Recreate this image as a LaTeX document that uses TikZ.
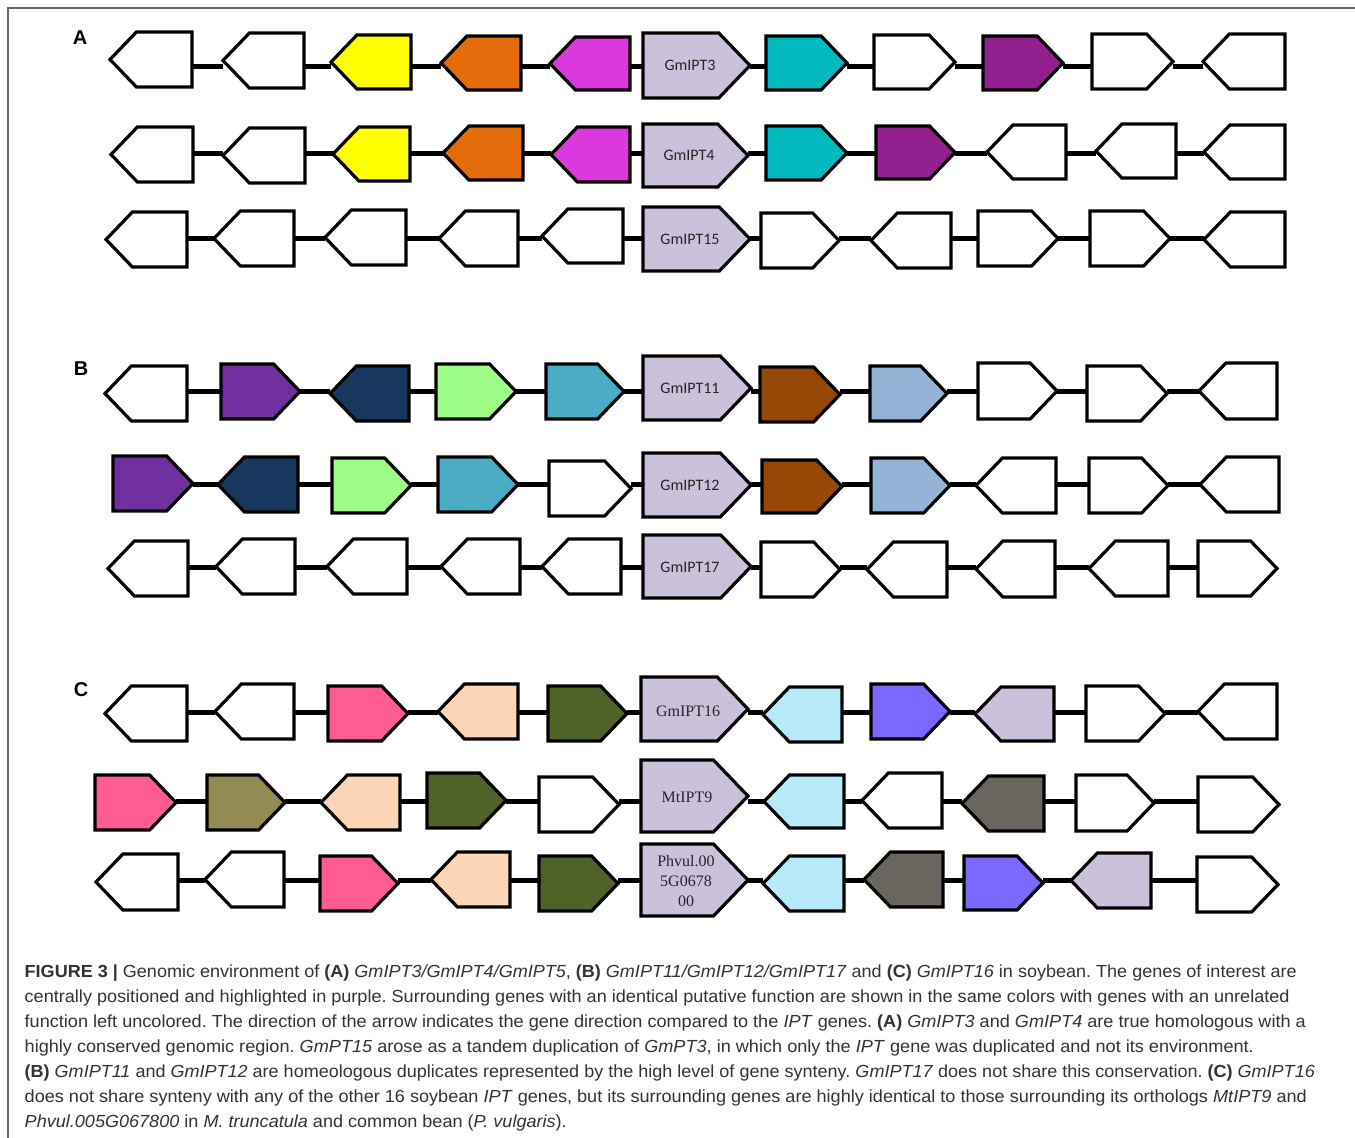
\documentclass[tikz,border=0pt]{standalone}
\usepackage{fontspec}
\usepackage{graphicx}
\setmainfont{Liberation Sans}
\newfontfamily\carl{Carlito}
\newfontfamily\tnr{Liberation Serif}
\usetikzlibrary{backgrounds}
\frenchspacing

\definecolor{yellowA}{HTML}{FFFF00}
\definecolor{orangeA}{HTML}{E46C0A}
\definecolor{magentaA}{HTML}{DD38DD}
\definecolor{iptcol}{HTML}{CCC1DA}
\definecolor{tealA}{HTML}{00B9BE}
\definecolor{purpleA}{HTML}{93208F}
\definecolor{purpleB}{HTML}{7030A0}
\definecolor{navyB}{HTML}{17375E}
\definecolor{lgreenB}{HTML}{9EFD87}
\definecolor{aquaB}{HTML}{4BACC6}
\definecolor{brownB}{HTML}{974706}
\definecolor{lblueB}{HTML}{95B3D7}
\definecolor{pinkC}{HTML}{FF5C93}
\definecolor{peachC}{HTML}{FBD5B5}
\definecolor{dkgreenC}{HTML}{4F6228}
\definecolor{khakiC}{HTML}{948A54}
\definecolor{lcyanC}{HTML}{B7EBFA}
\definecolor{violetC}{HTML}{7A68FF}
\definecolor{grayC}{HTML}{6B6560}
\definecolor{captext}{HTML}{333333}
\definecolor{framecol}{HTML}{666666}

\tikzset{
  genestyle/.style={draw=black, line width=3.2pt, line join=miter},
  genebox/.style={rectangle, draw=none, inner sep=0pt, outer sep=0pt},
  conn/.style={draw=black, line width=5pt},
  iptlab/.style={font=\carl\fontsize{16}{18}\selectfont, text=black!85, inner sep=0pt},
  serlab/.style={font=\tnr\fontsize{16}{20}\selectfont, text=black!85, inner sep=0pt, align=center},
  panellab/.style={font=\bfseries\fontsize{20}{22}\selectfont, inner sep=0pt},
  capline/.style={anchor=base west, inner sep=0pt, font=\fontsize{17.5}{20}\selectfont, text=captext},
  frameline/.style={draw=framecol, line width=1.5pt},
}

% #1 name, #2 direction (R/L), #3 x left, #4 x right, #5 y top, #6 y bottom, #7 fill
\newcommand\gene[7]{%
  \pgfmathsetmacro\gd{0.48*(#6-#5)}%
  \ifx#2R%
    \filldraw[genestyle, fill=#7] (#3,#5) -- ({#4-\gd},#5) -- (#4,{(#5+#6)/2}) -- ({#4-\gd},#6) -- (#3,#6) -- cycle;%
  \else%
    \filldraw[genestyle, fill=#7] (#4,#5) -- ({#3+\gd},#5) -- (#3,{(#5+#6)/2}) -- ({#3+\gd},#6) -- (#4,#6) -- cycle;%
  \fi%
  \pgfmathsetmacro\gw{#4-#3}\pgfmathsetmacro\gh{#6-#5}%
  \node[genebox, minimum width=\gw pt, minimum height=\gh pt] (#1) at ({(#3+#4)/2},{(#5+#6)/2}) {};%
}
% connect genes prefix1..prefix11 at the row coordinate
\newcommand\linkrow[1]{%
  \begin{scope}[on background layer]
  \foreach \i in {1,...,10}{%
    \pgfmathtruncatemacro\j{\i+1}%
    \draw[conn] (#1\i.east |- row#1) -- (#1\j.west |- row#1);%
  }
  \end{scope}%
}

\begin{document}
\begin{tikzpicture}[x=1pt, y=-1pt]
\useasboundingbox (0,0) rectangle (1355,1138);
\begin{scope}[on background layer]
\fill[white] (0,0) rectangle (1355,1138);
\end{scope}
\draw[frameline] (8,1138) -- (8,8) -- (1355,8);

% panel letters
\node[panellab] (labA) at (80,38) {A};
\node[panellab] (labB) at (81,369) {B};
\node[panellab] (labC) at (81,690) {C};

% ---------------- A row 1
\coordinate (rowa) at (0,66);
\gene{a1}{L}{110}{192}{32}{87}{white}
\gene{a2}{L}{223}{304}{33}{88}{white}
\gene{a3}{L}{331}{411}{35}{89}{yellowA}
\gene{a4}{L}{441}{521}{36}{90}{orangeA}
\gene{a5}{L}{550}{630}{37}{90}{magentaA}
\gene{a6}{R}{643}{750}{33}{98}{iptcol}
\gene{a7}{R}{766}{847}{36}{90}{tealA}
\gene{a8}{R}{874}{955}{35}{89}{white}
\gene{a9}{R}{983}{1063}{36}{90}{purpleA}
\gene{a10}{R}{1092}{1173}{34}{89}{white}
\gene{a11}{L}{1203}{1285}{34}{89}{white}
\node[iptlab] (a6t) at (690,65.5) {GmIPT3};
\linkrow{a}

% ---------------- A row 2
\coordinate (rowb) at (0,153);
\gene{b1}{L}{111}{193}{127}{182}{white}
\gene{b2}{L}{223}{305}{128}{183}{white}
\gene{b3}{L}{333}{410}{127}{181}{yellowA}
\gene{b4}{L}{443}{523}{126}{180}{orangeA}
\gene{b5}{L}{551}{630}{127}{182}{magentaA}
\gene{b6}{R}{643}{748}{124}{187}{iptcol}
\gene{b7}{R}{766}{847}{126}{180}{tealA}
\gene{b8}{R}{876}{955}{126}{179}{purpleA}
\gene{b9}{L}{987}{1066}{125}{179}{white}
\gene{b10}{L}{1096}{1176}{124}{178}{white}
\gene{b11}{L}{1204}{1285}{125}{179}{white}
\node[iptlab] (b6t) at (689,155.5) {GmIPT4};
\linkrow{b}

% ---------------- A row 3
\coordinate (rowc) at (0,238);
\gene{c1}{L}{106}{187}{212}{267}{white}
\gene{c2}{L}{214}{294}{211}{266}{white}
\gene{c3}{L}{325}{406}{210}{265}{white}
\gene{c4}{L}{439}{518}{211}{266}{white}
\gene{c5}{L}{542}{623}{209}{263}{white}
\gene{c6}{R}{643}{750}{207}{271}{iptcol}
\gene{c7}{R}{761}{839}{213}{268}{white}
\gene{c8}{L}{871}{951}{213}{268}{white}
\gene{c9}{R}{978}{1058}{211}{266}{white}
\gene{c10}{R}{1090}{1170}{211}{266}{white}
\gene{c11}{L}{1204}{1285}{212}{267}{white}
\node[iptlab] (c6t) at (690,239) {GmIPT15};
\linkrow{c}

% ---------------- B row 1
\coordinate (rowd) at (0,391);
\gene{d1}{L}{105}{187}{366}{421}{white}
\gene{d2}{R}{221}{300}{364}{419}{purpleB}
\gene{d3}{L}{330}{409}{366}{421}{navyB}
\gene{d4}{R}{436}{516}{364}{419}{lgreenB}
\gene{d5}{R}{546}{624}{364}{419}{aquaB}
\gene{d6}{R}{643}{751}{356}{420}{iptcol}
\gene{d7}{R}{760}{840}{367}{422}{brownB}
\gene{d8}{R}{870}{947}{366}{421}{lblueB}
\gene{d9}{R}{978}{1057}{363}{419}{white}
\gene{d10}{R}{1087}{1167}{366}{421}{white}
\gene{d11}{L}{1199}{1277}{363}{419}{white}
\node[iptlab] (d6t) at (690,388) {GmIPT11};
\linkrow{d}

% ---------------- B row 2
\coordinate (rowe) at (0,484);
\gene{e1}{R}{113}{193}{456}{511}{purpleB}
\gene{e2}{L}{218}{298}{457}{512}{navyB}
\gene{e3}{R}{332}{411}{458}{513}{lgreenB}
\gene{e4}{R}{438}{518}{457}{512}{aquaB}
\gene{e5}{R}{549}{631}{461}{516}{white}
\gene{e6}{R}{643}{751}{453}{517}{iptcol}
\gene{e7}{R}{762}{842}{460}{513}{brownB}
\gene{e8}{R}{871}{950}{458}{513}{lblueB}
\gene{e9}{L}{976}{1056}{458}{513}{white}
\gene{e10}{R}{1089}{1168}{458}{513}{white}
\gene{e11}{L}{1200}{1279}{457}{512}{white}
\node[iptlab] (e6t) at (690,485) {GmIPT12};
\linkrow{e}

% ---------------- B row 3
\coordinate (rowf) at (0,567);
\gene{f1}{L}{108}{188}{541}{596}{white}
\gene{f2}{L}{216}{295}{539}{594}{white}
\gene{f3}{L}{327}{407}{539}{594}{white}
\gene{f4}{L}{441}{520}{539}{594}{white}
\gene{f5}{L}{542}{621}{539}{594}{white}
\gene{f6}{R}{643}{751}{535}{598}{iptcol}
\gene{f7}{R}{761}{840}{542}{597}{white}
\gene{f8}{L}{867}{947}{542}{597}{white}
\gene{f9}{L}{976}{1055}{541}{597}{white}
\gene{f10}{L}{1089}{1168}{541}{596}{white}
\gene{f11}{R}{1198}{1277}{541}{596}{white}
\node[iptlab] (f6t) at (690,567) {GmIPT17};
\linkrow{f}

% ---------------- C row 1
\coordinate (rowg) at (0,712);
\gene{g1}{L}{105}{187}{686}{741}{white}
\gene{g2}{L}{215}{294}{684}{739}{white}
\gene{g3}{R}{328}{408}{686}{741}{pinkC}
\gene{g4}{L}{438}{518}{684}{739}{peachC}
\gene{g5}{R}{548}{627}{686}{741}{dkgreenC}
\gene{g6}{R}{641}{748}{677}{741}{iptcol}
\gene{g7}{L}{763}{842}{687}{742}{lcyanC}
\gene{g8}{R}{871}{950}{684}{739}{violetC}
\gene{g9}{L}{975}{1054}{687}{741}{iptcol}
\gene{g10}{R}{1086}{1165}{686}{741}{white}
\gene{g11}{L}{1198}{1277}{684}{739}{white}
\node[serlab] (g6t) at (688,711) {GmIPT16};
\linkrow{g}

% ---------------- C row 2
\coordinate (rowh) at (0,801);
\gene{h1}{R}{95}{176}{775}{830}{pinkC}
\gene{h2}{R}{207}{285}{775}{830}{khakiC}
\gene{h3}{L}{321}{400}{775}{830}{peachC}
\gene{h4}{R}{427}{506}{773}{828}{dkgreenC}
\gene{h5}{R}{539}{619}{777}{832}{white}
\gene{h6}{R}{641}{748}{760}{832}{iptcol}
\gene{h7}{L}{764}{844}{775}{828}{lcyanC}
\gene{h8}{L}{862}{942}{773}{828}{white}
\gene{h9}{L}{962}{1044}{776}{831}{grayC}
\gene{h10}{R}{1076}{1154}{775}{831}{white}
\gene{h11}{R}{1198}{1279}{777}{832}{white}
\node[serlab] (h6t) at (687,797) {MtIPT9};
\linkrow{h}

% ---------------- C row 3
\coordinate (rowi) at (0,880);
\gene{i1}{L}{96}{178}{854}{910}{white}
\gene{i2}{L}{205}{284}{852}{907}{white}
\gene{i3}{R}{320}{398}{856}{911}{pinkC}
\gene{i4}{L}{431}{510}{852}{907}{peachC}
\gene{i5}{R}{539}{618}{856}{911}{dkgreenC}
\gene{i6}{R}{641}{748}{844}{916}{iptcol}
\gene{i7}{L}{763}{844}{856}{911}{lcyanC}
\gene{i8}{L}{864}{943}{852}{907}{grayC}
\gene{i9}{R}{964}{1043}{856}{910}{violetC}
\gene{i10}{L}{1071}{1151}{853}{908}{iptcol}
\gene{i11}{R}{1197}{1278}{857}{912}{white}
\node[serlab] (i6t) at (686,881) {Phvul.00\\5G0678\\00};
\linkrow{i}

% ---------------- caption
\node[capline] (cap1) at (24.5,977.5) {\resizebox{1272pt}{\height}{\textbf{FIGURE 3 |} Genomic environment of \textbf{(A)} \textit{GmIPT3/GmIPT4/GmIPT5}, \textbf{(B)} \textit{GmIPT11/GmIPT12/GmIPT17} and \textbf{(C)} \textit{GmIPT16} in soybean. The genes of interest are}};
\node[capline] (cap2) at (24.5,1002.5) {\resizebox{1265pt}{\height}{centrally positioned and highlighted in purple. Surrounding genes with an identical putative function are shown in the same colors with genes with an unrelated}};
\node[capline] (cap3) at (24.5,1027.5) {\resizebox{1281pt}{\height}{function left uncolored. The direction of the arrow indicates the gene direction compared to the \textit{IPT} genes. \textbf{(A)} \textit{GmIPT3} and \textit{GmIPT4} are true homologous with a}};
\node[capline] (cap4) at (24.5,1052.5) {\resizebox{1229pt}{\height}{highly conserved genomic region. \textit{GmPT15} arose as a tandem duplication of \textit{GmPT3}, in which only the \textit{IPT} gene was duplicated and not its environment.}};
\node[capline] (cap5) at (24.5,1077.5) {\resizebox{1290pt}{\height}{\textbf{(B)} \textit{GmIPT11} and \textit{GmIPT12} are homeologous duplicates represented by the high level of gene synteny. \textit{GmIPT17} does not share this conservation. \textbf{(C)} \textit{GmIPT16}}};
\node[capline] (cap6) at (24.5,1102.5) {\resizebox{1282pt}{\height}{does not share synteny with any of the other 16 soybean \textit{IPT} genes, but its surrounding genes are highly identical to those surrounding its orthologs \textit{MtIPT9} and}};
\node[capline] (cap7) at (24.5,1127.5) {\resizebox{542pt}{\height}{\textit{Phvul.005G067800} in \textit{M. truncatula} and common bean (\textit{P. vulgaris}).}};
\end{tikzpicture}
\end{document}
